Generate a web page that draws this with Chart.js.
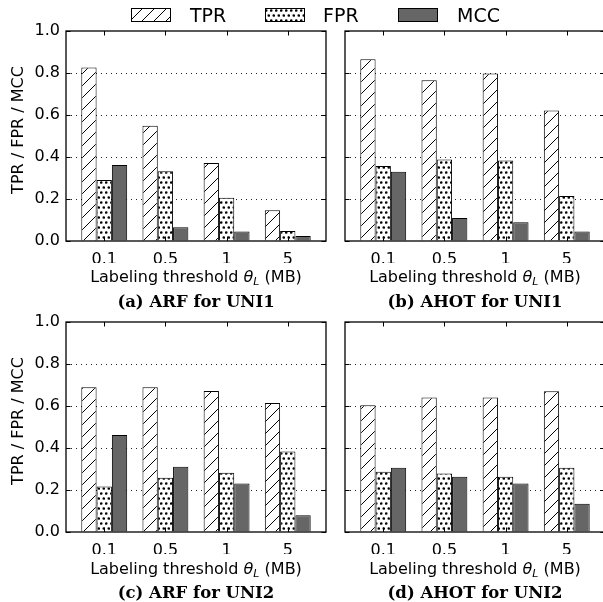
<!DOCTYPE html>
<html>
<head>
<meta charset="utf-8">
<script src="https://cdn.jsdelivr.net/npm/chart.js@4.4.1/dist/chart.umd.min.js"></script>
<style>
  html, body { margin: 0; padding: 0; background: #fff; overflow: hidden; }
  #fig { position: relative; width: 603px; height: 602px; overflow: hidden; font-family: "DejaVu Sans"; color: #000; }
  #fig canvas { position: absolute; }
  .xtitle { position: absolute; width: 260px; text-align: center; font-size: 16px; line-height: 16px; white-space: nowrap; }
  .xtitle sub { font-size: 11px; vertical-align: -3px; line-height: 0; }
  .ytitle { position: absolute; width: 200px; height: 16px; text-align: center; font-size: 16px; line-height: 16px; white-space: nowrap; transform: rotate(-90deg); }
  .sub { position: absolute; width: 260px; text-align: center; font-family: "DejaVu Serif"; font-weight: bold; font-size: 16.5px; line-height: 16px; white-space: nowrap; }
  .leg { position: absolute; font-size: 19px; line-height: 19px; }
</style>
</head>
<body>
<div id="fig">
  <canvas id="c1" width="334" height="275" style="left:0;top:0"></canvas>
  <canvas id="c2" width="278" height="275" style="left:335px;top:0"></canvas>
  <canvas id="c3" width="334" height="275" style="left:0;top:291px"></canvas>
  <canvas id="c4" width="278" height="275" style="left:335px;top:291px"></canvas>

  <div class="ytitle" style="left:-82px;top:122px">TPR / FPR / MCC</div>
  <div class="ytitle" style="left:-82px;top:413px">TPR / FPR / MCC</div>

  <div class="xtitle" style="left:66px;top:269px">Labeling threshold <i>θ</i><sub><i>L</i></sub> (MB)</div>
  <div class="xtitle" style="left:345px;top:269px">Labeling threshold <i>θ</i><sub><i>L</i></sub> (MB)</div>
  <div class="xtitle" style="left:66px;top:561px">Labeling threshold <i>θ</i><sub><i>L</i></sub> (MB)</div>
  <div class="xtitle" style="left:345px;top:561px">Labeling threshold <i>θ</i><sub><i>L</i></sub> (MB)</div>

  <div class="sub" style="left:66px;top:294px">(a) ARF for UNI1</div>
  <div class="sub" style="left:345px;top:294px">(b) AHOT for UNI1</div>
  <div class="sub" style="left:66px;top:585px">(c) ARF for UNI2</div>
  <div class="sub" style="left:345px;top:585px">(d) AHOT for UNI2</div>

  <canvas id="lg0" width="40" height="14" style="left:131px;top:8px"></canvas>
  <div class="leg" id="lt0" style="left:190px;top:6px"></div>
  <canvas id="lg1" width="40" height="14" style="left:265px;top:8px"></canvas>
  <div class="leg" id="lt1" style="left:323px;top:6px"></div>
  <canvas id="lg2" width="40" height="14" style="left:398px;top:8px"></canvas>
  <div class="leg" id="lt2" style="left:457px;top:6px"></div>
</div>

<script>
const categories = ['0.1', '0.5', '1', '5'];
const seriesNames = ['TPR', 'FPR', 'MCC'];
const yTicks = [0, 0.2, 0.4, 0.6, 0.8, 1.0];

// (a) ARF for UNI1
const arfUni1Tpr = [0.826, 0.549, 0.372, 0.147];
const arfUni1Fpr = [0.290, 0.332, 0.206, 0.048];
const arfUni1Mcc = [0.362, 0.066, 0.045, 0.024];
// (b) AHOT for UNI1
const ahotUni1Tpr = [0.865, 0.766, 0.798, 0.622];
const ahotUni1Fpr = [0.357, 0.388, 0.383, 0.214];
const ahotUni1Mcc = [0.330, 0.109, 0.089, 0.045];
// (c) ARF for UNI2
const arfUni2Tpr = [0.689, 0.689, 0.671, 0.614];
const arfUni2Fpr = [0.217, 0.258, 0.282, 0.383];
const arfUni2Mcc = [0.462, 0.311, 0.231, 0.080];
// (d) AHOT for UNI2
const ahotUni2Tpr = [0.603, 0.641, 0.641, 0.670];
const ahotUni2Fpr = [0.287, 0.278, 0.263, 0.306];
const ahotUni2Mcc = [0.306, 0.263, 0.231, 0.134];

Chart.defaults.font.family = 'DejaVu Sans';
Chart.defaults.color = '#000';

function hatchPattern() {
  const s = 12;
  const c = document.createElement('canvas');
  c.width = s; c.height = s;
  const g = c.getContext('2d');
  g.fillStyle = '#fff';
  g.fillRect(0, 0, s, s);
  g.strokeStyle = '#000';
  g.lineWidth = 1;
  g.beginPath();
  g.moveTo(-1, s + 1); g.lineTo(s + 1, -1);
  g.moveTo(-s / 2 - 1, s / 2 + 1); g.lineTo(s / 2 + 1, -s / 2 - 1);
  g.moveTo(s / 2 - 1, s * 1.5 + 1); g.lineTo(s * 1.5 + 1, s / 2 - 1);
  g.stroke();
  return g.createPattern(c, 'repeat');
}

function dotPattern() {
  const w = 5, h = 10;
  const c = document.createElement('canvas');
  c.width = w; c.height = h;
  const g = c.getContext('2d');
  g.fillStyle = '#fff';
  g.fillRect(0, 0, w, h);
  g.fillStyle = '#000';
  [[1.25, 2.5], [3.75, 7.5]].forEach(([x, y]) => {
    g.beginPath();
    g.arc(x, y, 1.3, 0, Math.PI * 2);
    g.fill();
  });
  return g.createPattern(c, 'repeat');
}

const fills = [hatchPattern(), dotPattern(), '#666666'];

// full box with inward ticks, drawn over the bars
const framePlugin = {
  id: 'frame',
  afterDatasetsDraw(chart) {
    const { ctx, chartArea: a, scales: { x, y } } = chart;
    ctx.save();
    ctx.strokeStyle = '#000';
    ctx.lineWidth = 1;
    ctx.beginPath();
    x.ticks.forEach(t => {
      const px = Math.round(x.getPixelForValue(t.value)) + 0.5;
      ctx.moveTo(px, a.top); ctx.lineTo(px, a.top + 4.5);
      ctx.moveTo(px, a.bottom); ctx.lineTo(px, a.bottom - 4.5);
    });
    y.ticks.forEach(t => {
      const py = Math.round(y.getPixelForValue(t.value)) + 0.5;
      ctx.moveTo(a.left, py); ctx.lineTo(a.left + 4.5, py);
      ctx.moveTo(a.right, py); ctx.lineTo(a.right - 4.5, py);
    });
    ctx.stroke();
    ctx.lineWidth = 1.3;
    ctx.strokeRect(a.left, a.top, a.right - a.left, a.bottom - a.top);
    ctx.restore();
  }
};

function makeChart(id, values, showY) {
  const datasets = values.map((vals, k) => ({
    label: seriesNames[k],
    data: vals.map((v, i) => ({ x: i, y: v })),
    backgroundColor: fills[k],
    borderColor: '#000',
    borderWidth: 1,
    categoryPercentage: 0.75,
    barPercentage: 1.0
  }));

  return new Chart(document.getElementById(id), {
    type: 'bar',
    data: { datasets },
    plugins: [framePlugin],
    options: {
      responsive: false,
      animation: false,
      devicePixelRatio: 1,
      layout: { padding: { top: 31, right: 8, bottom: 12, left: 0 } },
      plugins: { legend: { display: false }, tooltip: { enabled: false } },
      scales: {
        x: {
          type: 'linear',
          offset: false,
          min: -0.625,
          max: 3.625,
          afterBuildTicks: axis => { axis.ticks = categories.map((c, i) => ({ value: i })); },
          afterFit: axis => { axis.height = 22; },
          grid: { display: false, offset: false },
          border: { display: false },
          ticks: {
            autoSkip: false,
            maxRotation: 0,
            padding: 1,
            font: { size: 16 },
            callback: v => categories[v]
          }
        },
        y: {
          min: 0,
          max: 1,
          afterBuildTicks: axis => { axis.ticks = yTicks.map(v => ({ value: v })); },
          afterFit: axis => { axis.width = showY ? 66 : 10; },
          grid: {
            drawTicks: false,
            lineWidth: 1,
            color: c => (c.tick && c.tick.value > 0.01 && c.tick.value < 0.99) ? '#222' : 'rgba(0,0,0,0)'
          },
          border: { display: false, dash: [1, 4] },
          ticks: {
            display: showY,
            padding: 6,
            font: { size: 16 },
            callback: v => v.toFixed(1)
          }
        }
      }
    }
  });
}

makeChart('c1', [arfUni1Tpr, arfUni1Fpr, arfUni1Mcc], true);
makeChart('c2', [ahotUni1Tpr, ahotUni1Fpr, ahotUni1Mcc], false);
makeChart('c3', [arfUni2Tpr, arfUni2Fpr, arfUni2Mcc], true);
makeChart('c4', [ahotUni2Tpr, ahotUni2Fpr, ahotUni2Mcc], false);

// legend patches and labels
seriesNames.forEach((name, k) => {
  const cv = document.getElementById('lg' + k);
  const g = cv.getContext('2d');
  g.fillStyle = fills[k];
  g.fillRect(0, 0, cv.width, cv.height);
  g.strokeStyle = '#000';
  g.lineWidth = 1;
  g.strokeRect(0.5, 0.5, cv.width - 1, cv.height - 1);
  document.getElementById('lt' + k).textContent = name;
});
</script>
</body>
</html>
